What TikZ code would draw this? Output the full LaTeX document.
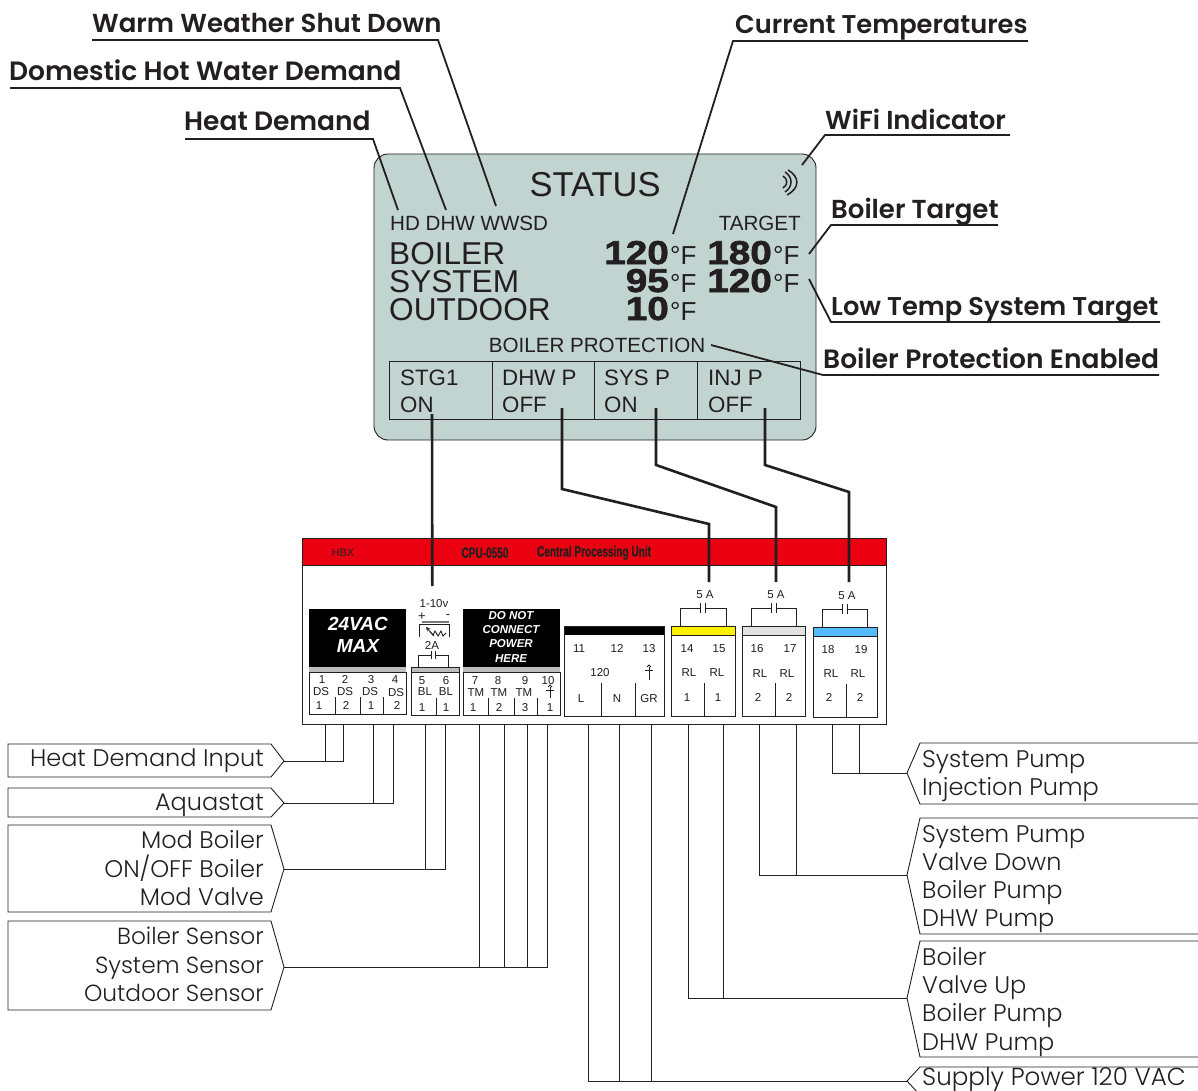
\documentclass[tikz,border=0pt]{standalone}
\usepackage{fontspec}
\setmainfont{Liberation Sans}
\newfontfamily\calloutfont{Poppins Light}
\newfontfamily\headfont{Poppins SemiBold}
\newfontfamily\blackfont[FakeStretch=1.17,FakeBold=2]{Liberation Sans Bold}
\newfontfamily\narrowfont[FakeStretch=0.67,FakeBold=0.3]{Liberation Sans Bold}
\definecolor{lcd}{HTML}{C2D4CF}
\definecolor{ink}{HTML}{231F20}
\definecolor{cpured}{HTML}{EA0010}
\definecolor{strip}{HTML}{BDBDBD}
\definecolor{relayB}{HTML}{E2E2E2}
\definecolor{relayC}{HTML}{55BBFA}
\tikzset{
  head/.style={font=\headfont\fontsize{26}{26}\selectfont,text=ink,inner sep=0pt,anchor=base west},
  headW/.style={head,font=\headfont\fontsize{26.5}{26}\selectfont},
  headN/.style={head,font=\headfont\fontsize{25.7}{26}\selectfont},
  lead/.style={draw=ink,line width=1.8pt},
  wire/.style={draw=ink,line width=2.6pt},
  thin/.style={draw=ink,line width=0.9pt},
  call/.style={font=\calloutfont\fontsize{24}{24}\selectfont,text=ink,inner sep=0pt},
  callL/.style={call,anchor=base east},
  callS/.style={callL,font=\calloutfont\fontsize{23.3}{24}\selectfont},
  callR/.style={call,anchor=base west},
  lcdbig/.style={font=\fontsize{31.6}{32}\selectfont,text=ink,inner sep=0pt,anchor=base west},
  lcdsml/.style={font=\fontsize{20.6}{21}\selectfont,text=ink,inner sep=0pt,anchor=base west},
  lcdbtn/.style={font=\fontsize{22.3}{23}\selectfont,text=ink,inner sep=0pt,anchor=base west},
  lcdnum/.style={font=\blackfont\fontsize{33}{33}\selectfont,text=ink,inner sep=0pt,anchor=base east},
  lcddeg/.style={font=\fontsize{26}{26}\selectfont,text=ink,inner sep=0pt,anchor=base west},
  term/.style={font=\fontsize{11.5}{11.5}\selectfont,text=ink,inner sep=0pt,yshift=-0.7pt},
  warn/.style={font=\bfseries\itshape\fontsize{11.5}{11.5}\selectfont,text=white,inner sep=0pt,yshift=-0.7pt},
  box/.style={draw=ink,line width=0.9pt,inner sep=0pt},
}
\begin{document}
\begin{tikzpicture}[x=1pt,y=-1pt]
\useasboundingbox (0,0) rectangle (1198,1091);

% display panel
\node[box,fill=lcd,rounded corners=14pt,minimum width=442pt,minimum height=286pt] (panel) at (595,297) {};
\node[font=\fontsize{34.5}{35}\selectfont,text=ink,inner sep=0pt,anchor=base] (status) at (595,197) {STATUS};
\node[lcdsml] (flags) at (390,231) {HD DHW WWSD};
\node[lcdsml,anchor=base east] (target) at (801,231) {TARGET};
\node[lcdbig] (boiler) at (389,264) {BOILER};
\node[lcdbig] (system) at (389,292) {SYSTEM};
\node[lcdbig] (outdoor) at (389,320) {OUTDOOR};
\node[lcdnum] (boilerT) at (669,264) {120};
\node[lcddeg] (boilerF) at (670,264) {°F};
\node[lcdnum] (systemT) at (669,292) {95};
\node[lcddeg] (systemF) at (670,292) {°F};
\node[lcdnum] (outdoorT) at (669,320) {10};
\node[lcddeg] (outdoorF) at (670,320) {°F};
\node[lcdnum] (boilerS) at (772,264) {180};
\node[lcddeg] (boilerSF) at (773,264) {°F};
\node[lcdnum] (systemS) at (772,292) {120};
\node[lcddeg] (systemSF) at (773,292) {°F};
\node[lcdsml,anchor=base] (protect) at (597,352) {BOILER PROTECTION};
\draw[ink,line width=1pt] (389,361) rectangle (800,419);
\draw[ink,line width=1pt] (492,361) -- (492,419);
\draw[ink,line width=1pt] (594,361) -- (594,419);
\draw[ink,line width=1pt] (697,361) -- (697,419);
\node[lcdbtn] (stg) at (400,385) {STG1};
\node[lcdbtn] (stgS) at (400,412) {ON};
\node[lcdbtn] (dhw) at (502,385) {DHW P};
\node[lcdbtn] (dhwS) at (502,412) {OFF};
\node[lcdbtn] (sys) at (604,385) {SYS P};
\node[lcdbtn] (sysS) at (604,412) {ON};
\node[lcdbtn] (inj) at (708,385) {INJ P};
\node[lcdbtn] (injS) at (708,412) {OFF};
% wifi
\draw[ink,line width=1.5pt] (783,176) .. controls (788,179) and (788,185) .. (783,188);
\draw[ink,line width=1.5pt] (785,172) .. controls (793,177) and (793,187) .. (785,192);
\draw[ink,line width=1.5pt] (788,170) .. controls (800,177) and (800,188) .. (787,195);

% callouts above
\node[head] (wwsdL) at (92,33) {Warm Weather Shut Down};
\coordinate (wwsdA) at (92,40);
\coordinate (wwsdB) at (438,40);
\coordinate (wwsdC) at (496,206);
\draw[lead] (wwsdA) -- (wwsdB) -- (wwsdC);
\node[headW] (dhwL) at (9,81) {Domestic Hot Water Demand};
\coordinate (dhwA) at (10,88);
\coordinate (dhwB) at (400,88);
\coordinate (dhwC) at (446,210);
\draw[lead] (dhwA) -- (dhwB) -- (dhwC);
\node[headW] (hdL) at (184,131) {Heat Demand};
\coordinate (hdA) at (185,139);
\coordinate (hdB) at (373,139);
\coordinate (hdC) at (398,210);
\draw[lead] (hdA) -- (hdB) -- (hdC);
\node[headN] (tempL) at (735,34) {Current Temperatures};
\coordinate (tempA) at (1028,41);
\coordinate (tempB) at (733,41);
\coordinate (tempC) at (673,234);
\draw[lead] (tempA) -- (tempB) -- (tempC);
\node[head] (wifiL) at (825,130) {WiFi Indicator};
\coordinate (wifiA) at (1010,135);
\coordinate (wifiB) at (825,135);
\coordinate (wifiC) at (802,165);
\draw[lead] (wifiA) -- (wifiB) -- (wifiC);
\node[head] (targetL) at (831,219) {Boiler Target};
\coordinate (targetA) at (998,225);
\coordinate (targetB) at (831,225);
\coordinate (targetC) at (809,254);
\draw[lead] (targetA) -- (targetB) -- (targetC);
\node[headN] (lowL) at (831,315) {Low Temp System Target};
\coordinate (lowA) at (1160,322);
\coordinate (lowB) at (831,322);
\coordinate (lowC) at (809,279);
\draw[lead] (lowA) -- (lowB) -- (lowC);
\node[headW] (protL) at (823,368) {Boiler Protection Enabled};
\coordinate (protA) at (1159,375);
\coordinate (protB) at (823,375);
\coordinate (protC) at (711,345);
\draw[lead] (protA) -- (protB) -- (protC);

% control module
\node[box,fill=white,minimum width=584pt,minimum height=186.5pt] (cpu) at (594.3,631.2) {};
\node[box,fill=cpured,minimum width=584pt,minimum height=27pt] (bar) at (594.3,551.5) {};
\node[font=\fontsize{11}{11}\selectfont,text=ink,inner sep=0pt] (hbx) at (343,552.7) {HBX};
\node[font=\narrowfont\fontsize{15}{15}\selectfont,text=ink,inner sep=0pt] (model) at (485,552.7) {CPU-0550};
\node[font=\narrowfont\fontsize{15}{15}\selectfont,text=ink,inner sep=0pt] (unit) at (594,552.7) {Central Processing Unit};

% block 1 to 4
\fill[black] (309,609) rectangle (406,667);
\fill[strip] (309,667) rectangle (406,672);
\draw[ink,line width=0.9pt] (309,672) rectangle (406,714);
\draw[thin] (335,697) -- (335,715);
\draw[thin] (360,697) -- (360,715);
\draw[thin] (383,697) -- (383,715);
\node[font=\bfseries\itshape\fontsize{19}{19}\selectfont,text=white,inner sep=0pt] (vac) at (358,624) {24VAC};
\node[font=\bfseries\itshape\fontsize{19}{19}\selectfont,text=white,inner sep=0pt] (max) at (358,646) {MAX};
\node[term] (n1) at (322,679) {1};
\node[term] (n2) at (345,679) {2};
\node[term] (n3) at (371,679) {3};
\node[term] (n4) at (395,679) {4};
\node[term] (a1) at (321,691) {DS};
\node[term] (a2) at (345,691) {DS};
\node[term] (a3) at (370,691) {DS};
\node[term] (a4) at (396,692) {DS};
\node[term] (b1) at (319,705) {1};
\node[term] (b2) at (346,705) {2};
\node[term] (b3) at (371,705) {1};
\node[term] (b4) at (397,705) {2};

\fill[strip] (411,667) rectangle (459,672);
\draw[ink,line width=0.9pt] (411,667) rectangle (459,715);
\draw[thin] (411,672) -- (459,672);
\draw[thin] (436,698) -- (436,715);
\node[term] (volt) at (434,603) {1-10v};
\node[term,font=\fontsize{13}{13}\selectfont] (plus) at (422,616) {+};
\node[term,font=\fontsize{13}{13}\selectfont] (minus) at (448,616) {-};
\draw[ink!60,line width=1.6pt] (422,622) -- (449,622);
\draw[thin] (419,637) -- (419,624) -- (449,624) -- (449,637);
\draw[thin,-stealth] (434,636) -- (426,627);
\draw[thin] (430,632) -- (433,635) -- (435,631) -- (438,636) -- (441,631) -- (443,636) -- (446,633);
\node[term] (amps) at (432,645) {2A};
\draw[thin] (418,667) |- (431,655);
\draw[thin] (435,655) -| (448,667);
\draw[thin] (431,651) -- (431,659);
\draw[thin] (435,651) -- (435,659);
\node[term] (n5) at (422,680) {5};
\node[term] (n6) at (446,680) {6};
\node[term] (c5) at (425,691) {BL};
\node[term] (c6) at (446,691) {BL};
\node[term] (d5) at (422,707) {1};
\node[term] (d6) at (446,707) {1};

\fill[black] (463,609) rectangle (560,667);
\fill[strip] (463,667) rectangle (560,672);
\draw[ink,line width=0.9pt] (463,672) rectangle (560,715);
\draw[thin] (488,698) -- (488,715);
\draw[thin] (514,698) -- (514,715);
\draw[thin] (537,698) -- (537,715);
\node[warn] (w1) at (511,615) {DO NOT};
\node[warn] (w2) at (511,629) {CONNECT};
\node[warn] (w3) at (511,643) {POWER};
\node[warn] (w4) at (511,658) {HERE};
\node[term] (n7) at (475,680) {7};
\node[term] (n8) at (498,680) {8};
\node[term] (n9) at (525,680) {9};
\node[term] (n10) at (548,680) {10};
\node[term] (e7) at (476,692) {TM};
\node[term] (e8) at (499,692) {TM};
\node[term] (e9) at (524,692) {TM};
\draw[thin] (550,687) -- (550,698);
\draw[thin] (546,690) -- (554,690);
\draw[thin] (548,687) -- (550,685) -- (552,687);
\node[term] (f7) at (473,707) {1};
\node[term] (f8) at (499,707) {2};
\node[term] (f9) at (525,707) {3};
\node[term] (f10) at (550,707) {1};

\fill[black] (564,626) rectangle (664,635);
\draw[ink,line width=0.9pt] (564,626) rectangle (664,716);
\draw[thin] (601,683) -- (601,716);
\draw[thin] (635,683) -- (635,716);
\node[term] (n11) at (579,648) {11};
\node[term] (n12) at (617,648) {12};
\node[term] (n13) at (649,648) {13};
\node[term] (line) at (600,672) {120};
\draw[thin] (649,667) -- (649,680);
\draw[thin] (645,670) -- (653,670);
\draw[thin] (647,667) -- (649,665) -- (651,667);
\node[term] (gL) at (581,698) {L};
\node[term] (gN) at (617,698) {N};
\node[term] (gG) at (649,698) {GR};

% relay blocks
\draw[ink,line width=0.9pt,fill=yellow] (671,626) rectangle (735,635);
\draw[ink,line width=0.9pt] (671,635) rectangle (735,716);
\draw[thin] (704,683) -- (704,716);
\node[term] (fuseA) at (705,594) {5 A};
\draw[thin] (680,626) |- (700,608);
\draw[thin] (705,608) -| (726,626);
\draw[thin] (700,603) -- (700,613);
\draw[thin] (705,603) -- (705,613);
\node[term] (n14) at (687,648) {14};
\node[term] (n15) at (719,648) {15};
\node[term] (g14) at (689,672) {RL};
\node[term] (g15) at (717,672) {RL};
\node[term] (h14) at (687,697) {1};
\node[term] (h15) at (718,697) {1};

\draw[ink,line width=0.9pt,fill=relayB] (742,626) rectangle (805,635);
\draw[ink,line width=0.9pt] (742,635) rectangle (805,716);
\draw[thin] (775,683) -- (775,716);
\node[term] (fuseB) at (776,594) {5 A};
\draw[thin] (751,626) |- (771,608);
\draw[thin] (776,608) -| (796,626);
\draw[thin] (771,603) -- (771,613);
\draw[thin] (776,603) -- (776,613);
\node[term] (n16) at (757,648) {16};
\node[term] (n17) at (790,648) {17};
\node[term] (g16) at (760,673) {RL};
\node[term] (g17) at (787,673) {RL};
\node[term] (h16) at (758,697) {2};
\node[term] (h17) at (789,697) {2};

\draw[ink,line width=0.9pt,fill=relayC] (813,627) rectangle (877,636);
\draw[ink,line width=0.9pt] (813,636) rectangle (877,717);
\draw[thin] (846,684) -- (846,717);
\node[term] (fuseC) at (847,595) {5 A};
\draw[thin] (822,627) |- (842,609);
\draw[thin] (847,609) -| (867,627);
\draw[thin] (842,604) -- (842,614);
\draw[thin] (847,604) -- (847,614);
\node[term] (n18) at (828,649) {18};
\node[term] (n19) at (861,649) {19};
\node[term] (g18) at (831,673) {RL};
\node[term] (g19) at (858,673) {RL};
\node[term] (h18) at (829,697) {2};
\node[term] (h19) at (860,697) {2};

% display to relays
\coordinate (stgW) at (432,414);
\coordinate (stgE) at (432.3,586);
\draw[wire] (stgW) -- (stgE);
\coordinate (dhwW) at (562,408);
\coordinate (dhwM) at (562,489);
\coordinate (dhwN) at (709,524);
\coordinate (dhwE) at (709,582);
\draw[wire] (dhwW) -- (dhwM) -- (dhwN) -- (dhwE);
\coordinate (sysW) at (656,408);
\coordinate (sysM) at (656,465);
\coordinate (sysN) at (776,507);
\coordinate (sysE) at (776,582);
\draw[wire] (sysW) -- (sysM) -- (sysN) -- (sysE);
\coordinate (injW) at (765,408);
\coordinate (injM) at (765,465);
\coordinate (injN) at (849,492);
\coordinate (injE) at (849,582);
\draw[wire] (injW) -- (injM) -- (injN) -- (injE);

% left callouts
\draw[thin] (8,744) -- (271,744) -- (284,761) -- (271,777) -- (8,777) -- cycle;
\coordinate (hdiTip) at (284,761);
\coordinate (t1) at (325,725);
\coordinate (t2) at (343,725);
\node[callL] (hdi) at (264,766) {Heat Demand Input};
\draw[thin] (t1) |- (hdiTip);
\draw[thin] (t2) |- (hdiTip);
\draw[thin] (8,788) -- (271,788) -- (284,803) -- (271,817) -- (8,817) -- cycle;
\coordinate (aquaTip) at (284,803);
\coordinate (t3) at (373,725);
\coordinate (t4) at (393,725);
\node[callL] (aqua) at (264,810) {Aquastat};
\draw[thin] (t3) |- (aquaTip);
\draw[thin] (t4) |- (aquaTip);
\draw[thin] (8,825) -- (271,825) -- (284,869) -- (271,912) -- (8,912) -- cycle;
\coordinate (modTip) at (284,869);
\coordinate (t5) at (425,725);
\coordinate (t6) at (445,725);
\node[callL] (mod1) at (264,848) {Mod Boiler};
\node[callL] (mod2) at (264,877) {ON/OFF Boiler};
\node[callL] (mod3) at (264,905) {Mod Valve};
\draw[thin] (t5) |- (modTip);
\draw[thin] (t6) |- (modTip);
\draw[thin] (8,921) -- (271,921) -- (284,967) -- (271,1010) -- (8,1010) -- cycle;
\coordinate (senTip) at (284,967);
\coordinate (t7) at (479,725);
\coordinate (t8) at (504,725);
\coordinate (t9) at (527,725);
\coordinate (t10) at (547,725);
\node[callS] (sen1) at (264,944) {Boiler Sensor};
\node[callS] (sen2) at (264,973) {System Sensor};
\node[callS] (sen3) at (264,1001) {Outdoor Sensor};
\draw[thin] (t7) |- (senTip);
\draw[thin] (t8) |- (senTip);
\draw[thin] (t9) |- (senTip);
\draw[thin] (t10) |- (senTip);

% right callouts
\draw[thin] (1198,743) -- (920,743) -- (907,773) -- (920,804) -- (1198,804);
\coordinate (pumpTip) at (907,773);
\coordinate (t18) at (832,725);
\coordinate (t19) at (859,725);
\node[callR] (pump1) at (922,767) {System Pump};
\node[callR] (pump2) at (922,795) {Injection Pump};
\draw[thin] (t18) |- (pumpTip);
\draw[thin] (t19) |- (pumpTip);
\draw[thin] (1198,818) -- (920,818) -- (907,875) -- (920,934) -- (1198,934);
\coordinate (downTip) at (907,875);
\coordinate (t16) at (759,725);
\coordinate (t17) at (796,725);
\node[callR] (down1) at (922,842) {System Pump};
\node[callR] (down2) at (922,870) {Valve Down};
\node[callR] (down3) at (922,898) {Boiler Pump};
\node[callR] (down4) at (922,926) {DHW Pump};
\draw[thin] (t16) |- (downTip);
\draw[thin] (t17) |- (downTip);
\draw[thin] (1198,941) -- (920,941) -- (907,998) -- (920,1057) -- (1198,1057);
\coordinate (upTip) at (907,998);
\coordinate (t14) at (688,725);
\coordinate (t15) at (723,725);
\node[callR] (up1) at (922,965) {Boiler};
\node[callR] (up2) at (922,993) {Valve Up};
\node[callR] (up3) at (922,1021) {Boiler Pump};
\node[callR] (up4) at (922,1050) {DHW Pump};
\draw[thin] (t14) |- (upTip);
\draw[thin] (t15) |- (upTip);
\draw[thin] (1198,1067) -- (920,1067) -- (907,1081) -- (920,1095) -- (1198,1095);
\coordinate (powTip) at (907,1081);
\coordinate (t11) at (588,725);
\coordinate (t12) at (619,725);
\coordinate (t13) at (651,725);
\node[callR,font=\calloutfont\fontsize{24.6}{25}\selectfont] (pow) at (922,1085) {Supply Power 120 VAC};
\draw[thin] (t11) |- (powTip);
\draw[thin] (t12) |- (powTip);
\draw[thin] (t13) |- (powTip);
\end{tikzpicture}
\end{document}
